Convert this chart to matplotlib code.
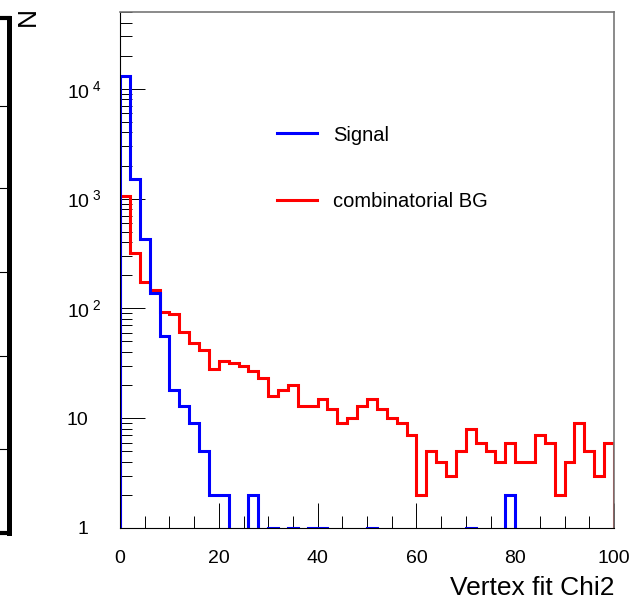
#!/usr/bin/env python3
"""Vertex fit chi2 distribution: signal vs combinatorial background (ROOT-style)."""

import matplotlib

matplotlib.use("Agg")
import matplotlib as mpl  # noqa: E402
import matplotlib.pyplot as plt  # noqa: E402
import matplotlib.transforms as mtransforms  # noqa: E402
import numpy as np  # noqa: E402
from matplotlib.ticker import FixedFormatter, FixedLocator, LogLocator, MultipleLocator  # noqa: E402

# ---------------------------------------------------------------------------
# Data (50 bins of width 2 between 0 and 100)
# ---------------------------------------------------------------------------
BIN_EDGES = np.arange(0, 101, 2)

SIGNAL = [
    13100, 1500, 430, 137, 56, 18, 13, 9, 5, 2,
    2, 0, 0, 2, 0, 1, 0, 1, 0, 1,
    1, 0, 0, 0, 0, 1, 0, 0, 0, 0,
    0, 0, 0, 0, 0, 1, 0, 0, 0, 2,
    0, 0, 0, 0, 0, 0, 0, 0, 0, 0,
]

COMBINATORIAL_BG = [
    1050, 318, 174, 146, 92, 88, 61, 48, 42, 28,
    33, 32, 30, 27, 23, 16, 18, 20, 13, 13,
    15, 12, 9, 10, 13, 15, 12, 10, 9, 7,
    2, 5, 4, 3, 5, 8, 6, 5, 4, 6,
    4, 4, 7, 6, 2, 4, 9, 5, 3, 6,
]

SERIES_LABELS = ["Signal", "combinatorial BG"]
SERIES_COLORS = ["#0000ff", "#ff0000"]

X_TICKS = [0, 20, 40, 60, 80, 100]
Y_TICKS = [1, 10, 100, 1000, 10000]
Y_TICK_LABELS = [
    "1",
    "10",
    r"$\mathregular{10^{\ 2}}$",
    r"$\mathregular{10^{\ 3}}$",
    r"$\mathregular{10^{\ 4}}$",
]

# neighbouring pad frame visible at the left edge (its inner grid lines)
LEFT_FRAME_LINES = [0.163, 0.344, 0.507, 0.670, 0.829]


def setup_style() -> None:
    mpl.rcParams.update({
        "font.family": ["Liberation Sans", "DejaVu Sans"],
        "mathtext.fontset": "custom",
        "mathtext.rm": "Liberation Sans",
        "mathtext.it": "Liberation Sans:italic",
        "mathtext.bf": "Liberation Sans:bold",
        "font.size": 14,
        "axes.linewidth": 0.8,
    })


def main() -> None:
    setup_style()
    W, H = 632, 599
    fig = plt.figure(figsize=(W / 100, H / 100), dpi=100)

    # main pad
    ax = fig.add_axes([120 / W, (H - 528) / H, 494 / W, 516 / H])
    ax.set_yscale("log")

    # red first so the blue edge sits on top at x = 0
    data = [SIGNAL, COMBINATORIAL_BG]
    handles = {}
    for i in (1, 0):
        handles[i] = ax.stairs(
            data[i], BIN_EDGES, color=SERIES_COLORS[i], linewidth=2.2,
            baseline=0, zorder=2 + (1 - i),
        )

    ax.set_xlim(0, 100)
    ax.set_ylim(1, 5e4)

    ax.xaxis.set_major_locator(FixedLocator(X_TICKS))
    ax.xaxis.set_minor_locator(MultipleLocator(5))
    ax.yaxis.set_major_locator(FixedLocator(Y_TICKS))
    ax.yaxis.set_major_formatter(FixedFormatter(Y_TICK_LABELS))
    ax.yaxis.set_minor_locator(LogLocator(base=10, subs=np.arange(2, 10), numticks=20))
    ax.yaxis.set_minor_formatter(plt.NullFormatter())

    ax.tick_params(which="both", direction="in", top=False, right=False,
                   color="black", width=0.7)
    ax.tick_params(which="major", length=18)
    ax.tick_params(which="minor", length=8.6)
    ax.tick_params(axis="x", which="major", pad=16, labelsize=14)
    ax.tick_params(axis="y", which="major", pad=13, labelsize=14)

    for side in ("top", "right"):
        ax.spines[side].set_color("#777777")
        ax.spines[side].set_linewidth(1.2)
    for side in ("left", "bottom"):
        ax.spines[side].set_color("black")
        ax.spines[side].set_linewidth(0.8)
    for sp in ax.spines.values():
        sp.set_zorder(5)

    # plain "1" and "10" line up with the base of the 10^n labels
    shift = mtransforms.ScaledTranslation(-14 / 100, 0, fig.dpi_scale_trans)
    for tick in ax.yaxis.get_major_ticks()[:2]:
        tick.label1.set_transform(tick.label1.get_transform() + shift)

    ax.set_xlabel("Vertex fit Chi2", loc="right", fontsize=19, labelpad=6)

    leg = ax.legend(
        [handles[0], handles[1]],
        SERIES_LABELS,
        loc="upper left",
        bbox_to_anchor=(0.318, 0.78),
        frameon=False,
        fontsize=14.5,
        borderpad=0,
        borderaxespad=0,
        handlelength=2.0,
        handletextpad=0.78,
        labelspacing=2.35,
    )
    for patch in leg.get_patches():
        patch.set_linewidth(1.8)

    # y-axis title at the top, outside the tick labels (ROOT style)
    fig.text(28 / W, (H - 17) / H, "N", rotation=90, ha="center", va="center",
             fontsize=19)

    # right edge of the neighbouring pad
    axl = fig.add_axes([-30 / W, (H - 533) / H, 39.5 / W, 515 / H])
    axl.set_xlim(0, 1)
    axl.set_ylim(0, 1)
    for y in LEFT_FRAME_LINES:
        axl.axhline(y, color="black", linewidth=0.8)
    axl.set_xticks([])
    axl.set_yticks([])
    axl.spines["right"].set_linewidth(3.6)
    axl.spines["top"].set_linewidth(3.0)
    axl.spines["bottom"].set_linewidth(3.0)
    axl.spines["left"].set_visible(False)

    fig.savefig("out.png", dpi=100)
    plt.close(fig)


if __name__ == "__main__":
    main()
